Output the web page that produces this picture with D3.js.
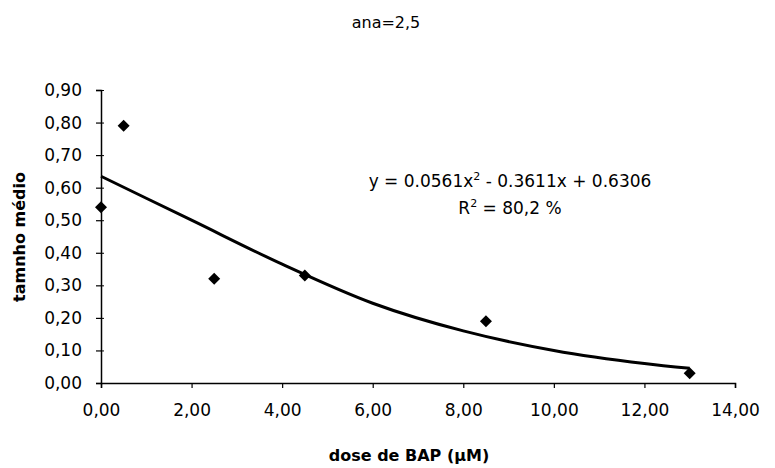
<!DOCTYPE html>
<html>
<head>
<meta charset="utf-8">
<script src="https://cdn.jsdelivr.net/npm/d3@7"></script>
<style>
  body { margin: 0; background: #fff; }
  text { font-family: "DejaVu Sans", sans-serif; fill: #000; }
</style>
</head>
<body>
<svg id="svg"></svg>
<script>
"use strict";

// observed points
var doseX = [0, 0.5, 2.5, 4.5, 8.5, 13];
var tamanhoY = [0.54, 0.79, 0.32, 0.33, 0.19, 0.03];

// trend line
var trendX = [0, 2, 4, 6, 8, 10, 12, 13];
var trendY = [0.635, 0.50, 0.365, 0.245, 0.16, 0.10, 0.06, 0.045];

var xTicks = [0, 2, 4, 6, 8, 10, 12, 14];
var yTicks = [0, 0.1, 0.2, 0.3, 0.4, 0.5, 0.6, 0.7, 0.8, 0.9];

var width = 775, height = 468;

var svg = d3.select("#svg")
  .attr("width", width)
  .attr("height", height);

var x = d3.scaleLinear().domain([0, 14]).range([101, 735]);
var y = d3.scaleLinear().domain([0, 0.9]).range([383, 90]);

var fmt = function(d){ return d.toFixed(2).replace(".", ","); };

// axes
var xAxis = svg.append("g")
  .attr("transform", "translate(0," + y(0) + ")")
  .call(d3.axisBottom(x).tickValues(xTicks).tickFormat(fmt).tickSize(5).tickPadding(16));

var yAxis = svg.append("g")
  .attr("transform", "translate(" + x(0) + ",0)")
  .call(d3.axisLeft(y).tickValues(yTicks).tickFormat(fmt).tickSize(5).tickPadding(14));

[xAxis, yAxis].forEach(function(a){
  a.select(".domain").attr("stroke", "#000").attr("stroke-width", 1.5);
  a.selectAll(".tick line").attr("stroke", "#000").attr("stroke-width", 1.2);
  a.selectAll(".tick text").style("font-size", "17px").attr("fill", "#000");
});
// small tick on the right side of the y axis too
yAxis.selectAll(".tick").append("line").attr("x1", 0).attr("x2", 3).attr("stroke", "#000");

// trend line
var pts = trendX.map(function(d, i){ return [d, trendY[i]]; });
svg.append("path")
  .datum(pts)
  .attr("fill", "none")
  .attr("stroke", "#000")
  .attr("stroke-width", 3)
  .attr("d", d3.line()
    .x(function(d){ return x(d[0]); })
    .y(function(d){ return y(d[1]); })
    .curve(d3.curveMonotoneX));

// points
svg.selectAll(".pt")
  .data(doseX.map(function(d, i){ return [d, tamanhoY[i]]; }))
  .enter()
  .append("path")
  .attr("class", "pt")
  .attr("transform", function(d){ return "translate(" + x(d[0]) + "," + y(d[1]) + ")"; })
  .attr("d", "M0,-6L6,0L0,6L-6,0Z")
  .attr("fill", "#000");

// title
svg.append("text")
  .attr("x", 386).attr("y", 28)
  .attr("text-anchor", "middle")
  .style("font-size", "16px")
  .text("ana=2,5");

// equation
var eq = svg.append("text")
  .attr("x", 510).attr("y", 187)
  .attr("text-anchor", "middle")
  .style("font-size", "17px");
eq.append("tspan").text("y = 0.0561x");
eq.append("tspan").attr("dy", -7).style("font-size", "11px").text("2");
eq.append("tspan").attr("dy", 7).text(" - 0.3611x + 0.6306");

var r2 = svg.append("text")
  .attr("x", 510).attr("y", 214)
  .attr("text-anchor", "middle")
  .style("font-size", "17px");
r2.append("tspan").text("R");
r2.append("tspan").attr("dy", -7).style("font-size", "11px").text("2");
r2.append("tspan").attr("dy", 7).text(" = 80,2 %");

// axis titles
svg.append("text")
  .attr("x", 409).attr("y", 461)
  .attr("text-anchor", "middle")
  .style("font-size", "16px")
  .style("font-weight", "bold")
  .text("dose de BAP (µM)");

svg.append("text")
  .attr("transform", "translate(25,237) rotate(-90)")
  .attr("text-anchor", "middle")
  .style("font-size", "16px")
  .style("font-weight", "bold")
  .text("tamnho médio");
</script>
</body>
</html>
